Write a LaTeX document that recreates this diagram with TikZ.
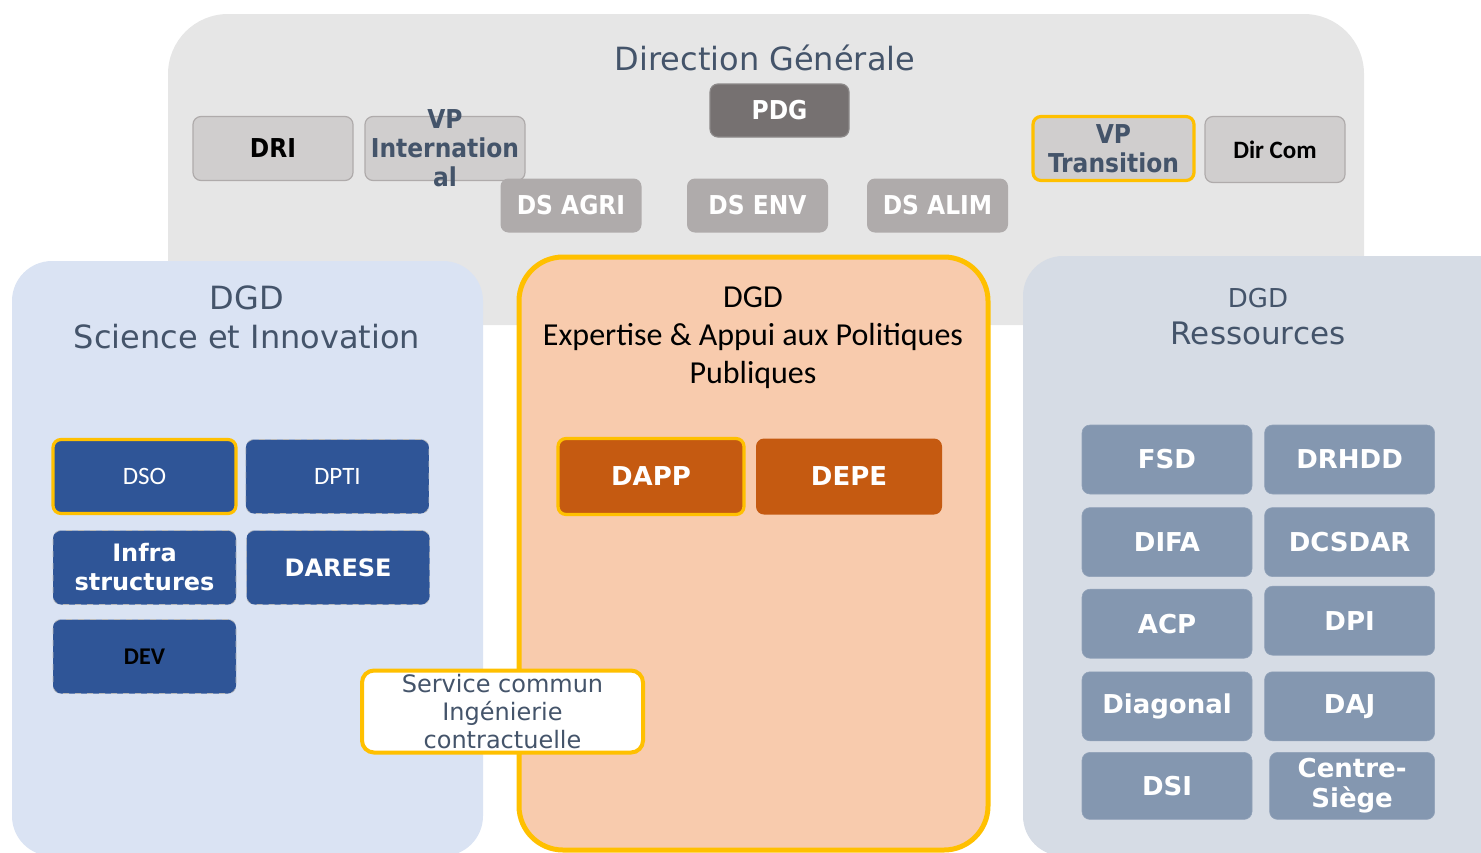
\documentclass[tikz,border=0pt]{standalone}
\usepackage{fontspec}
\setmainfont{DejaVu Sans}
\newfontfamily\condfont{DejaVu Sans Condensed}
\newfontfamily\calfont{Carlito}
\usetikzlibrary{positioning}
\definecolor{txtgray}{HTML}{44546A}
\definecolor{dgback}{HTML}{E6E6E6}
\definecolor{boxgray}{HTML}{D0CECE}
\definecolor{boxedge}{HTML}{AFABAB}
\definecolor{pdggray}{HTML}{767171}
\definecolor{goldline}{HTML}{FFC000}
\definecolor{siback}{HTML}{DAE3F3}
\definecolor{siblue}{HTML}{2F5597}
\definecolor{epback}{HTML}{F8CBAD}
\definecolor{eporange}{HTML}{C55A11}
\definecolor{resback}{HTML}{D6DCE5}
\definecolor{resblue}{HTML}{8497B0}
\tikzset{
	% boxes of the Direction Generale
	dgbox/.style={draw=boxedge, fill=boxgray, line width=0.6pt, rounded corners=4pt, inner sep=0pt, minimum width=80pt, minimum height=32pt, align=center, text=txtgray, font=\condfont\bfseries\fontsize{13}{14.5}\selectfont},
	pdgbox/.style={dgbox, fill=pdggray, draw=boxedge!80!black, minimum width=69.5pt, minimum height=26.5pt, text=white},
	dsbox/.style={dgbox, draw=none, fill=boxedge, minimum width=70.5pt, minimum height=27pt, text=white},
	gold/.style={draw=goldline, line width=1.6pt},
	% boxes of the three DGD
	sibox/.style={draw=gray!55, dashed, line width=0.3pt, fill=siblue, rounded corners=4pt, inner sep=0pt, minimum width=91.5pt, minimum height=37pt, align=center, text=white, font=\bfseries\fontsize{12}{14.5}\selectfont},
	epbox/.style={fill=eporange, rounded corners=4pt, inner sep=0pt, minimum width=93pt, minimum height=38pt, text=white, font=\bfseries\fontsize{13}{15}\selectfont},
	resbox/.style={draw=resblue!90!white, line width=0.3pt, fill=resblue, rounded corners=4pt, inner sep=0pt, minimum width=85pt, minimum height=34.5pt, align=center, text=white, font=\bfseries\fontsize{13}{15}\selectfont},
	title/.style={align=center, inner sep=0pt, text=txtgray, font=\fontsize{16}{19.5}\selectfont},
}

\begin{document}
\begin{tikzpicture}[x=0.5pt, y=-0.5pt]
	\useasboundingbox (0,0) rectangle (1481,852);
	\clip (0,0) rectangle (1481,852);
	
	% panels
	\fill[dgback, rounded corners=30pt] (168,14) rectangle (1364,325);
	\fill[siback, rounded corners=20pt] (12,261) rectangle (483,856);
	\filldraw[fill=epback, draw=goldline, line width=2.5pt, rounded corners=22pt] (519,257) rectangle (988,850);
	\fill[resback, rounded corners=20pt] (1023,256) rectangle (1520,856);
	
	% Direction Generale
	\node (dgtitle) [title] at (765,58) {Direction Générale};
	\node (pdg) [pdgbox] at (779.5,110.5) {PDG};
	\node (dri) [dgbox, text=black] at (273,148.5) {DRI};
	\node (vpint) [dgbox, label={[align=center, text=txtgray, font=\condfont\bfseries\fontsize{13}{14.5}\selectfont]center:VP\\Internation\\al}] at (445,148.5) {};
	\node (dsagri) [dsbox] at (571,205.5) {DS AGRI};
	\node (dsenv) [dsbox] at (757.5,205.5) {DS ENV};
	\node (dsalim) [dsbox] at (937.5,205.5) {DS ALIM};
	\node (vptrans) [dgbox, gold, minimum width=80.5pt] at (1113.5,148.5) {VP\\Transition};
	\node (dircom) [dgbox, text=black, minimum width=70pt, minimum height=33pt, font=\calfont\bfseries\fontsize{12.5}{14}\selectfont] at (1275,149.5) {Dir Com};
	
	% DGD Science et Innovation
	\node (sititle) [title] at (247,317) {DGD\\Science et Innovation};
	\node (dso) [sibox, gold, solid, font=\calfont\fontsize{12.5}{14}\selectfont] at (144.5,476.5) {DSO};
	\node (dpti) [sibox, right=4pt of dso, font=\calfont\fontsize{12.5}{14}\selectfont] {DPTI};
	\node (infra) [sibox] at (144.5,567.5) {Infra\\structures};
	\node (darese) [sibox, right=5pt of infra] {DARESE};
	\node (dev) [sibox, text=black, font=\calfont\bfseries\fontsize{12}{14}\selectfont] at (144.5,656.5) {DEV};
	
	% DGD Expertise & Appui aux Politiques Publiques
	\node (eptitle) [title, text=black, font=\calfont\fontsize{16}{19}\selectfont] at (753,338) {DGD\\Expertise \& Appui aux Politiques\\Publiques};
	\node (dapp) [epbox, gold] at (651,476.5) {DAPP};
	\node (depe) [epbox, right=5pt of dapp] {DEPE};
	
	% DGD Ressources
	\node (restitle) [title, font=\fontsize{15.5}{18.5}\selectfont] at (1258,316.5) {{\fontsize{13}{15}\selectfont DGD}\\Ressources};
	\node (fsd) [resbox] at (1167,459.5) {FSD};
	\node (drhdd) [resbox, right=6pt of fsd] {DRHDD};
	\node (difa) [resbox, below=6.5pt of fsd] {DIFA};
	\node (dcsdar) [resbox, right=6pt of difa] {DCSDAR};
	\node (acp) [resbox, below=6pt of difa] {ACP};
	\node (dpi) [resbox, right=6pt of acp, yshift=1.5pt] {DPI};
	\node (diagonal) [resbox, below=6.5pt of acp] {Diagonal};
	\node (daj) [resbox, right=6pt of diagonal] {DAJ};
	\node (dsi) [resbox, below=5.5pt of diagonal, minimum height=33.5pt] {DSI};
	\node (centre) [resbox, right=8.5pt of dsi, minimum width=82.5pt, minimum height=33.5pt] {Centre-\\Siège};
	
	% service commun
	\node (sci) [fill=white, draw=goldline, line width=2pt, rounded corners=6pt, inner sep=0pt, minimum width=140.5pt, minimum height=41pt, align=center, text=txtgray, font=\fontsize{12}{14}\selectfont] at (502.5,711.5) {Service commun\\Ingénierie\\contractuelle};
	
\end{tikzpicture}
\end{document}
